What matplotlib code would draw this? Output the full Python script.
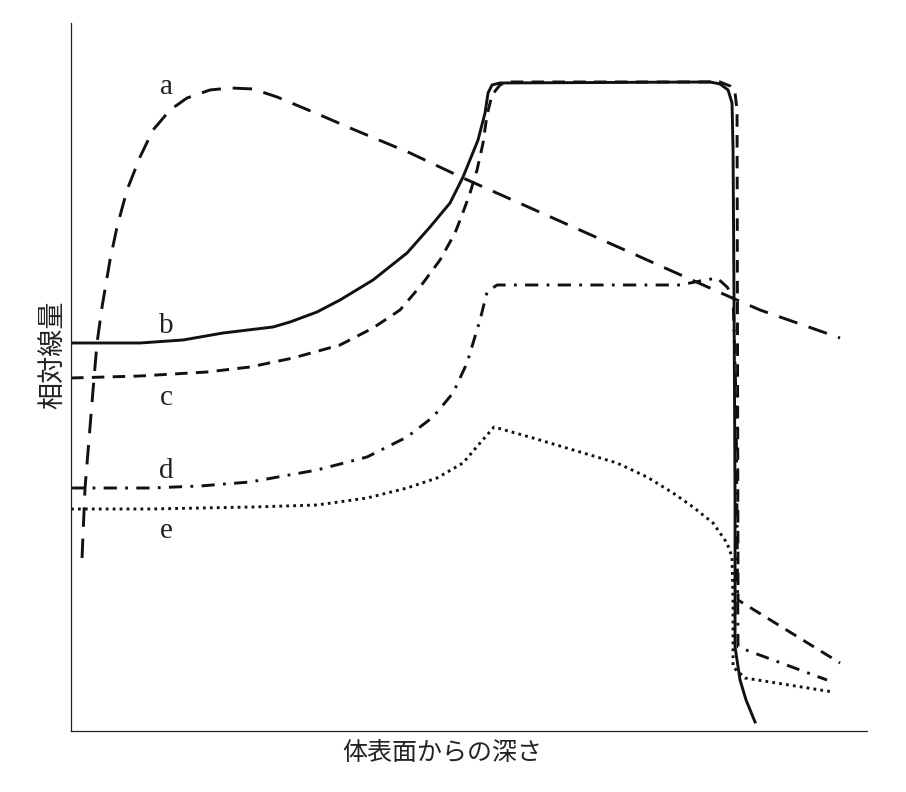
import matplotlib.pyplot as plt

plt.rcParams["lines.scale_dashes"] = False
plt.rcParams["lines.solid_joinstyle"] = "round"
plt.rcParams["lines.dash_joinstyle"] = "round"

# depth (x) / relative dose (y), arbitrary units
a_x = [1.1, 1.4, 2.3, 2.6, 3.1, 3.9, 4.6, 5.6, 6.9, 8.2, 9.9, 11.6, 13.9, 15.9, 18.2,
       20.6, 24.9, 27.9, 33.9, 39.2, 52.9, 65.9, 68.9, 76.9]
a_y = [17.3, 24.3, 35.3, 38.8, 42.4, 47.1, 50.4, 54.1, 57.4, 60.1, 62.1, 63.3, 64.1, 64.3, 64.2,
       63.4, 61.6, 60.3, 57.8, 55.3, 49.2, 43.4, 42.1, 39.3]

b_x = [0.0, 6.9, 11.2, 15.2, 20.2, 21.9, 24.6, 26.9, 30.2, 33.6, 35.9, 37.9, 39.2, 40.7, 41.4,
       41.7, 42.1, 42.9, 63.9, 64.9, 65.7, 66.1, 66.2, 66.3, 66.4, 66.4, 66.9, 67.5, 68.4]
b_y = [38.8, 38.8, 39.1, 39.8, 40.4, 40.9, 41.9, 43.1, 45.1, 47.8, 50.4, 52.8, 55.4, 59.1, 61.8,
       63.8, 64.6, 64.8, 64.9, 64.7, 64.1, 62.8, 58.1, 43.1, 23.1, 8.4, 5.1, 3.1, 0.9]

c_x = [0.0, 6.9, 13.6, 17.9, 22.2, 26.9, 30.2, 32.9, 35.2, 36.9, 38.4, 39.1, 39.9, 40.6, 41.2,
       41.6, 42.1, 42.9, 43.6, 64.9, 65.9, 66.4, 66.6, 66.7, 76.9]
c_y = [35.3, 35.5, 35.9, 36.4, 37.3, 38.6, 40.3, 42.1, 44.8, 47.1, 49.8, 51.6, 53.8, 56.1, 58.8,
       61.6, 63.6, 64.6, 64.9, 64.9, 64.5, 63.8, 62.1, 13.1, 6.8]

d_x = [0.0, 7.9, 12.9, 17.9, 24.6, 29.6, 33.6, 36.2, 38.2, 39.6, 40.9, 41.6, 42.6, 60.9, 62.9,
       64.6, 65.6, 66.2, 66.5, 66.7, 75.6]
d_y = [24.3, 24.3, 24.5, 24.9, 26.1, 27.4, 29.4, 31.4, 33.8, 36.8, 41.1, 43.9, 44.6, 44.6, 45.0,
       45.3, 44.4, 43.5, 33.1, 8.4, 5.1]

e_x = [0.0, 7.9, 18.2, 24.6, 29.6, 33.6, 36.6, 39.2, 40.9, 42.3, 46.2, 50.9, 54.6, 57.6, 60.2,
       62.2, 64.2, 65.6, 66.1, 66.2, 66.2, 67.4, 76.2]
e_y = [22.2, 22.2, 22.4, 22.6, 23.3, 24.3, 25.3, 26.8, 28.8, 30.4, 29.3, 27.9, 26.8, 25.4, 23.8,
       22.4, 20.8, 18.8, 17.4, 13.1, 6.4, 5.3, 3.9]

labels = ["a", "b", "c", "d", "e"]
label_x = [9.5, 9.5, 9.5, 9.5, 9.5]
label_y = [63.7, 39.8, 32.6, 25.3, 19.3]

fig = plt.figure(figsize=(9.06, 7.92), dpi=100)
ax = fig.add_axes([0.0784, 0.077, 0.8786, 0.894])

ax.plot(a_x, a_y, color="#111111", lw=2.1, dashes=(14, 8.5))
ax.plot(b_x, b_y, color="#111111", lw=2.1)
ax.plot(c_x, c_y, color="#111111", lw=2.1, dashes=(9, 6))
ax.plot(d_x, d_y, color="#111111", lw=2.1, dashes=(9.5, 6, 2, 6))
ax.plot(e_x, e_y, color="#111111", lw=2.1, dashes=(2, 3))

for lab, lx, ly in zip(labels, label_x, label_y):
    ax.text(lx, ly, lab, fontsize=21, family="Liberation Serif", color="#222222",
            ha="center", va="baseline")

ax.set_xlim(0, 79.6)
ax.set_ylim(0, 70.8)
ax.set_xticks([])
ax.set_yticks([])
for side in ["top", "right"]:
    ax.spines[side].set_visible(False)
for side in ["left", "bottom"]:
    ax.spines[side].set_linewidth(0.9)
    ax.spines[side].set_color("#222222")

fig.text(442 / 906, 1 - 753 / 792, "体表面からの深さ", fontsize=18,
         family="Noto Sans CJK JP", ha="center", va="center", color="#222222")
fig.text(53 / 906, 1 - 355 / 792, "相対線量", fontsize=19.5, rotation=90,
         family="Noto Sans CJK JP", ha="center", va="center", color="#222222")

fig.savefig("out.png", dpi=100)
